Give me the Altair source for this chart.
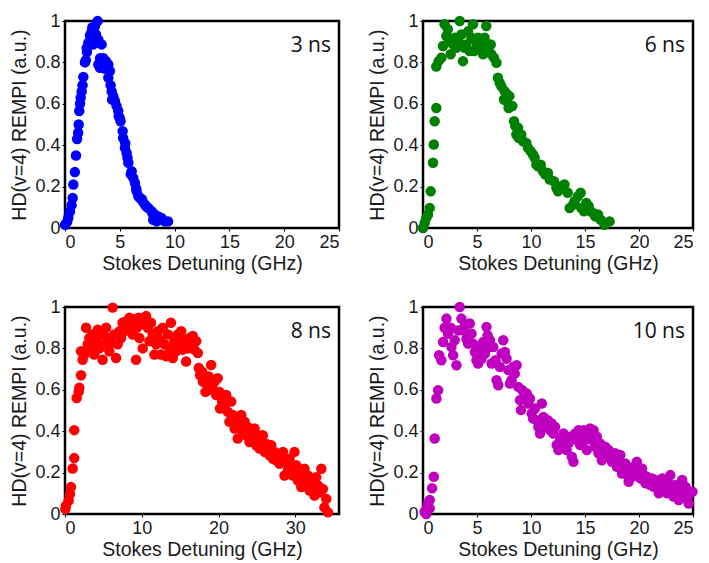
import altair as alt
import pandas as pd

# ---------------- data ----------------
labels = ["3 ns", "6 ns", "8 ns", "10 ns"]
colors = ["#0000FF", "#008000", "#FF0000", "#BF00BF"]
x_max = [25, 25, 35.7, 25]
x_ticks = [[0, 5, 10, 15, 20, 25], [0, 5, 10, 15, 20, 25], [0, 10, 20, 30], [0, 5, 10, 15, 20, 25]]
y_ticks = [0, 0.2, 0.4, 0.6, 0.8, 1]

x1 = [0.0, 0.3, 0.6, 0.7, 0.76, 0.9, 1.0, 1.1, 1.2, 1.3,
      1.37, 1.43, 1.52, 1.67, 1.82, 1.9, 1.98, 2.13, 2.28, 2.43,
      2.5, 2.74, 2.98, 2.83, 3.04, 3.34, 2.58, 2.3,
      3.04, 3.19, 3.5, 3.74, 3.95, 4.1, 3.95, 4.16, 4.26, 4.4,
      4.56, 4.7, 4.86, 5.0, 5.07, 5.26, 5.3, 5.47, 5.62, 5.7,
      5.78, 6.08, 6.23, 6.38, 6.53, 6.69, 6.84, 7.08, 7.3, 7.6,
      7.9, 8.2, 8.5, 8.8, 9.1, 9.4, 8.36, 8.05,
      3.2, 3.6, 4.3, 4.9, 5.5, 6.0, 6.5, 7.0, 7.4, 8.0, 1.25, 1.6, 2.0, 0.45, 0.2]
y1 = [0.016, 0.05, 0.11, 0.145, 0.21, 0.27, 0.35, 0.43, 0.46, 0.565,
      0.6, 0.63, 0.66, 0.73, 0.8, 0.81, 0.87, 0.895, 0.93, 0.95,
      0.97, 0.976, 1.0, 0.935, 0.91, 0.887, 0.887, 0.887,
      0.79, 0.774, 0.82, 0.806, 0.79, 0.758, 0.726, 0.69, 0.66, 0.637,
      0.613, 0.59, 0.565, 0.53, 0.516, 0.468, 0.435, 0.387, 0.363, 0.339,
      0.315, 0.274, 0.242, 0.218, 0.177, 0.153, 0.145, 0.129, 0.113, 0.097,
      0.081, 0.065, 0.056, 0.048, 0.032, 0.032, 0.032, 0.04,
      0.82, 0.77, 0.62, 0.54, 0.41, 0.26, 0.19, 0.14, 0.105, 0.07, 0.5, 0.69, 0.85, 0.08, 0.03]

x2 = [0, 0.15, 0.3, 0.46, 0.62, 0.71, 0.93, 1.0, 1.08, 1.23,
      1.23, 1.45, 1.7, 1.85, 2.0, 2.16, 2.3, 2.56, 2.47, 2.78,
      2.93, 3.09, 3.4, 3.24, 3.55, 3.7, 3.86, 4.0, 4.17, 4.32,
      4.48, 4.63, 4.72, 4.94, 5.1, 5.25, 5.4, 5.56, 5.7, 5.86,
      5.86, 6.08, 6.27, 6.33, 6.57, 6.8, 6.94, 7.1, 7.25, 7.56,
      7.8, 8.0, 7.5, 7.72, 7.93, 8.27, 8.43, 8.55, 8.8, 8.64,
      8.86, 9.1, 9.26, 9.57, 9.72, 9.97, 10.19, 10.34, 10.5, 10.65,
      10.9, 11.1, 11.33, 11.57, 11.73, 12.13, 12.35, 12.5, 12.75, 13.1,
      13.4, 13.58, 13.9, 14.04, 14.35, 14.6, 14.66, 14.9, 15.12, 15.34,
      15.5, 15.74, 15.96, 16.2, 16.45, 16.82, 17.28]
y2 = [0, 0.024, 0.048, 0.065, 0.097, 0.177, 0.315, 0.403, 0.516, 0.58,
      0.78, 0.806, 0.823, 0.879, 0.984, 0.927, 0.96, 0.839, 0.903, 0.887,
      0.919, 0.871, 1.0, 0.903, 0.935, 0.806, 0.871, 0.887, 0.95, 0.855,
      0.919, 0.984, 0.855, 0.895, 0.919, 0.871, 0.887, 0.839, 0.919, 0.976,
      0.855, 0.871, 0.887, 0.839, 0.823, 0.798, 0.726, 0.702, 0.685, 0.661,
      0.645, 0.637, 0.621, 0.613, 0.58, 0.589, 0.516, 0.492, 0.484, 0.452,
      0.435, 0.452, 0.419, 0.411, 0.387, 0.371, 0.355, 0.339, 0.306, 0.298,
      0.306, 0.274, 0.258, 0.266, 0.234, 0.226, 0.194, 0.177, 0.2, 0.21,
      0.17, 0.097, 0.113, 0.129, 0.153, 0.17, 0.097, 0.081, 0.121, 0.105,
      0.081, 0.073, 0.056, 0.065, 0.04, 0.016, 0.032]

x3 = [0.05, 0.13, 0.48, 0.65, 0.78, 1.0, 1.2, 1.2, 1.52, 1.78,
      1.87, 2.09, 2.09, 2.3, 2.5, 2.74, 2.96, 3.17, 3.4, 3.6,
      3.8, 4.04, 4.26, 4.48, 4.7, 4.9, 5.13, 5.35, 5.57, 5.78,
      6.0, 6.2, 6.43, 6.65, 6.87, 7.1, 7.3, 7.5, 7.74, 7.96,
      8.17, 8.4, 8.6, 8.83, 9.04, 9.26, 9.35, 9.6, 9.7, 9.9,
      10.13, 10.35, 10.57, 10.8, 11.0, 11.2, 11.43, 11.65, 11.87, 12.1,
      12.3, 12.5, 12.74, 12.96, 13.17, 13.4, 13.6, 13.8, 14.04, 14.26,
      14.48, 14.7, 14.9, 15.13, 15.35, 15.57, 15.78, 16.0, 16.2, 16.43,
      16.65, 16.87, 17.1, 17.3, 17.43, 17.6, 17.87, 17.96, 18.17, 18.3,
      18.5, 18.74, 18.9, 19.04, 19.26, 19.48, 19.7, 19.9, 20.13, 20.2,
      20.48, 20.78, 21.0, 21.2, 21.43, 21.65, 21.87, 22.1, 22.3, 22.5,
      22.74, 22.96, 23.17, 23.4, 23.6, 23.8, 24.04, 24.26, 24.48, 24.7,
      24.9, 25.13, 25.35, 25.57, 25.78, 26.0, 26.2, 26.43, 26.65, 26.87,
      27.1, 27.3, 27.5, 27.74, 27.96, 28.17, 28.4, 28.6, 28.83, 29.04,
      29.26, 29.5, 29.7, 29.9, 30.13, 30.35, 30.57, 30.78, 31.0, 31.2,
      31.43, 31.65, 31.87, 32.1, 32.3, 32.5, 32.74, 32.96, 33.17, 33.4,
      33.6, 33.8, 34.04, 34.26]
y3 = [0.024, 0.04, 0.065, 0.097, 0.13, 0.22, 0.27, 0.405, 0.56, 0.59,
      0.61, 0.67, 0.786, 0.745, 0.77, 0.9, 0.82, 0.85, 0.8, 0.867,
      0.77, 0.835, 0.89, 0.8, 0.867, 0.745, 0.82, 0.9, 0.85, 0.786,
      0.826, 0.997, 0.867, 0.754, 0.82, 0.883, 0.85, 0.924, 0.883, 0.93,
      0.9, 0.948, 0.916, 0.867, 0.94, 0.745, 0.9, 0.948, 0.85, 0.916,
      0.8, 0.94, 0.956, 0.9, 0.835, 0.924, 0.867, 0.77, 0.82, 0.883,
      0.843, 0.77, 0.9, 0.82, 0.762, 0.867, 0.8, 0.924, 0.754, 0.835,
      0.786, 0.867, 0.82, 0.883, 0.794, 0.843, 0.737, 0.8, 0.85, 0.82,
      0.86, 0.794, 0.835, 0.778, 0.705, 0.67, 0.687, 0.64, 0.656, 0.59,
      0.624, 0.664, 0.6, 0.72, 0.624, 0.64, 0.575, 0.656, 0.59, 0.51,
      0.543, 0.527, 0.575, 0.494, 0.446, 0.543, 0.478, 0.413, 0.462, 0.365,
      0.43, 0.478, 0.397, 0.446, 0.38, 0.42, 0.348, 0.397, 0.365, 0.413,
      0.332, 0.38, 0.316, 0.348, 0.38, 0.3, 0.34, 0.316, 0.284, 0.332,
      0.267, 0.3, 0.26, 0.284, 0.243, 0.267, 0.3, 0.186, 0.251, 0.21,
      0.267, 0.227, 0.186, 0.3, 0.235, 0.162, 0.203, 0.13, 0.17, 0.219,
      0.146, 0.186, 0.113, 0.162, 0.13, 0.089, 0.178, 0.138, 0.105, 0.219,
      0.121, 0.032, 0.073, 0.008]

x4 = [0.15, 0.3, 0.4, 0.46, 0.62, 0.62, 0.84, 1.0, 1.08, 1.24,
      1.4, 1.49, 1.7, 1.86, 2.0, 2.17, 2.32, 2.57, 2.63, 2.79,
      2.94, 3.1, 3.25, 3.4, 3.56, 3.72, 3.87, 4.02, 4.18, 4.33,
      4.49, 4.64, 4.8, 4.95, 5.1, 5.26, 5.42, 5.57, 5.73, 5.88,
      5.98, 6.1, 6.2, 6.35, 6.5, 6.72, 6.81, 6.97, 7.12, 7.28,
      7.43, 7.59, 7.74, 7.9, 8.05, 8.2, 8.36, 8.5, 8.67, 8.82,
      8.98, 9.07, 9.2, 9.38, 9.6, 9.75, 9.9, 10.06, 10.2, 10.37,
      10.53, 10.68, 10.84, 11.0, 11.15, 11.24, 11.36, 11.55, 11.76, 11.92,
      12.07, 12.23, 12.38, 12.54, 12.7, 12.85, 13.0, 13.16, 13.3, 13.47,
      13.62, 13.78, 13.93, 14.09, 14.24, 14.4, 14.55, 14.7, 14.86, 15.0,
      15.17, 15.33, 15.48, 15.63, 15.8, 15.94, 16.1, 16.25, 16.4, 16.56,
      16.72, 16.87, 17.03, 17.18, 17.34, 17.5, 17.65, 17.8, 17.96, 18.1,
      18.27, 18.42, 18.58, 18.73, 18.9, 19.04, 19.2, 19.35, 19.5, 19.66,
      19.8, 19.97, 20.12, 20.28, 20.43, 20.6, 20.74, 20.9, 21.05, 21.2,
      21.36, 21.5, 21.67, 21.83, 22.0, 22.14, 22.3, 22.45, 22.6, 22.76,
      22.9, 23.07, 23.2, 23.37, 23.53, 23.68, 23.84, 24.0, 24.15, 24.3,
      24.46, 24.6, 24.77, 24.95]
y4 = [0.011, 0.0, 0.035, 0.05, 0.068, 0.027, 0.124, 0.18, 0.365, 0.558,
      0.598, 0.767, 0.743, 0.831, 0.9, 0.944, 0.871, 0.9, 0.807, 0.767,
      0.839, 0.719, 0.887, 1.0, 0.944, 0.887, 0.911, 0.847, 0.823, 0.92,
      0.871, 0.823, 0.783, 0.743, 0.727, 0.8, 0.75, 0.831, 0.775, 0.904,
      0.863, 0.807, 0.839, 0.727, 0.807, 0.743, 0.646, 0.622, 0.71, 0.775,
      0.839, 0.783, 0.75, 0.695, 0.63, 0.646, 0.71, 0.678, 0.719, 0.614,
      0.55, 0.502, 0.598, 0.566, 0.582, 0.534, 0.558, 0.486, 0.461, 0.51,
      0.453, 0.42, 0.389, 0.534, 0.469, 0.445, 0.42, 0.453, 0.405, 0.437,
      0.389, 0.42, 0.333, 0.309, 0.357, 0.325, 0.389, 0.357, 0.309, 0.341,
      0.373, 0.277, 0.252, 0.389, 0.357, 0.405, 0.333, 0.373, 0.405, 0.357,
      0.309, 0.389, 0.413, 0.357, 0.405, 0.325, 0.373, 0.293, 0.341, 0.26,
      0.309, 0.325, 0.277, 0.309, 0.293, 0.252, 0.277, 0.293, 0.228, 0.26,
      0.285, 0.196, 0.228, 0.244, 0.188, 0.156, 0.212, 0.18, 0.228, 0.196,
      0.252, 0.212, 0.172, 0.22, 0.188, 0.148, 0.18, 0.164, 0.14, 0.172,
      0.132, 0.164, 0.132, 0.1, 0.148, 0.172, 0.116, 0.132, 0.1, 0.148,
      0.188, 0.116, 0.084, 0.14, 0.1, 0.068, 0.116, 0.164, 0.092, 0.132,
      0.076, 0.051, 0.1, 0.108]

xs = [x1, x2, x3, x4]
ys = [y1, y2, y3, y4]
widths = [274, 270, 274, 270]
H = 207
FONT = "Liberation Sans, Arial, sans-serif"


def panel(i):
    df = pd.DataFrame({"x": xs[i], "y": ys[i]})
    pts = alt.Chart(df).mark_circle(size=110, opacity=1, color=colors[i]).encode(
        x=alt.X("x:Q",
                scale=alt.Scale(domain=[0, x_max[i]], nice=False, zero=False),
                axis=alt.Axis(values=x_ticks[i], format="d", title="Stokes Detuning (GHz)")),
        y=alt.Y("y:Q",
                scale=alt.Scale(domain=[0, 1], nice=False),
                axis=alt.Axis(values=y_ticks, format="~g", title="HD(v=4) REMPI (a.u.)")),
    )
    lab = alt.Chart(pd.DataFrame({"t": [labels[i]]})).mark_text(
        align="right", baseline="alphabetic", font="Open Sans", fontSize=21,
        fontWeight="normal", color="#111111"
    ).encode(
        x=alt.value(widths[i] - 8),
        y=alt.value(31),
        text="t:N",
    )
    return alt.layer(pts, lab).properties(width=widths[i], height=H)


chart = alt.concat(
    *[panel(i) for i in range(4)],
    columns=2,
    spacing={"row": 79, "column": 84},
).properties(
    bounds="flush",
    padding={"left": 0, "top": 2, "right": 0, "bottom": 0},
).configure_view(
    stroke="black", strokeWidth=2.5
).configure_axis(
    domain=False, grid=False, ticks=True, tickColor="black", tickSize=3,
    labelFont=FONT, labelFontSize=18, labelColor="#1a1a1a", labelPadding=2,
    titleFont=FONT, titleFontSize=19.5, titleFontWeight="normal", titleColor="#1a1a1a",
).configure_axisY(
    titlePadding=5
).configure_axisX(
    titlePadding=3, labelPadding=2
)

chart.save("out.html", embed_options={"renderer": "svg", "actions": False})
